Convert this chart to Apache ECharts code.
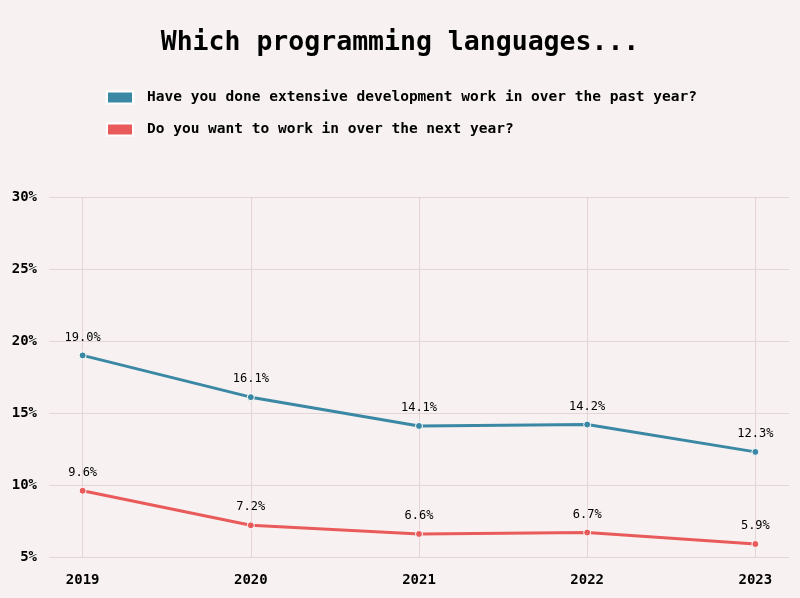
<!DOCTYPE html>
<html>
<head>
<meta charset="utf-8">
<script src="https://cdn.jsdelivr.net/npm/echarts@6/dist/echarts.min.js"></script>
<style>html,body{margin:0;padding:0;background:#f7f1f1}#c{width:800px;height:598px}</style>
</head>
<body>
<div id="c"></div>
<script>
const years = [2019, 2020, 2021, 2022, 2023];
const pastYear = [19.0, 16.1, 14.1, 14.2, 12.3];
const nextYear = [9.6, 7.2, 6.6, 6.7, 5.9];
const seriesNames = ['Have you done extensive development work in over the past year?', 'Do you want to work in over the next year?'];
const yTicks = [5, 10, 15, 20, 25, 30];

const FONT = '"DejaVu Sans Mono", monospace';
const chart = echarts.init(document.getElementById('c'));
function mk(name, vals, color) {
  return {
    name: name, type: 'line',
    data: years.map((y, i) => [y, vals[i]]),
    symbol: 'circle', symbolSize: 7,
    lineStyle: { color: color, width: 3 },
    itemStyle: { color: color, borderColor: '#ffffff', borderWidth: 1 },
    label: { show: true, position: 'top', distance: 8, fontFamily: FONT, fontSize: 12, color: '#000',
      formatter: p => p.value[1].toFixed(1) + '%' },
    emphasis: { disabled: true }, z: 3
  };
}
chart.setOption({
  backgroundColor: '#f7f1f1',
  animation: false,
  title: { text: 'Which programming languages...', left: 'center', top: 25,
    textStyle: { fontFamily: FONT, fontSize: 26.5, fontWeight: 'bold', color: '#000' } },
  legend: { orient: 'vertical', left: 101, top: 85, itemGap: 17, itemWidth: 26, itemHeight: 12,
    icon: 'rect',
    textStyle: { fontFamily: FONT, fontSize: 14.5, fontWeight: 'bold', color: '#000', padding: [0, 0, 0, 9] },
    data: seriesNames },
  grid: { left: 49, right: 11, top: 197, bottom: 41 },
  xAxis: {
    type: 'value', min: 2018.8, max: 2023.2,
    axisLine: { show: false }, axisTick: { show: false, customValues: years },
    axisLabel: { customValues: years, fontFamily: FONT, fontSize: 14, fontWeight: 'bold', color: '#000', margin: 16,
      formatter: v => String(v) },
    splitLine: { show: true, lineStyle: { color: '#e6d5d6', width: 1 } }
  },
  yAxis: {
    type: 'value', min: 5, max: 30, interval: 5,
    axisLine: { show: false }, axisTick: { show: false },
    axisLabel: { fontFamily: FONT, fontSize: 14, fontWeight: 'bold', color: '#000', margin: 12,
      formatter: '{value}%' },
    splitLine: { lineStyle: { color: '#e6d5d6', width: 1 } }
  },
  series: [ mk(seriesNames[0], pastYear, '#3a88a4'), mk(seriesNames[1], nextYear, '#e85b5a') ]
});
</script>
</body>
</html>
